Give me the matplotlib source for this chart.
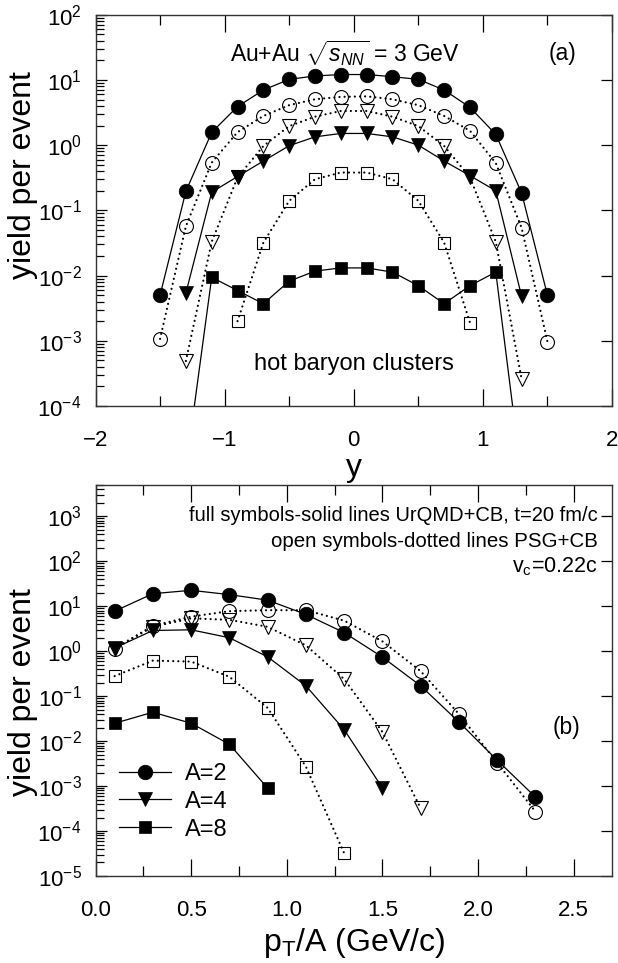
import matplotlib
matplotlib.use("Agg")
import matplotlib.pyplot as plt
from matplotlib.ticker import LogLocator, MultipleLocator, NullFormatter, FormatStrFormatter

plt.rcParams['font.family'] = ['Liberation Sans', 'DejaVu Sans']
plt.rcParams['mathtext.fontset'] = 'custom'
plt.rcParams['mathtext.rm'] = 'Liberation Sans'
plt.rcParams['mathtext.it'] = 'Liberation Sans:italic'
plt.rcParams['mathtext.default'] = 'regular'

# ---------------- panel (a): rapidity distributions ----------------
y16 = [-1.5, -1.3, -1.1, -0.9, -0.7, -0.5, -0.3, -0.1, 0.1, 0.3, 0.5, 0.7, 0.9, 1.1, 1.3, 1.5]
y14 = [-1.3, -1.1, -0.9, -0.7, -0.5, -0.3, -0.1, 0.1, 0.3, 0.5, 0.7, 0.9, 1.1, 1.3]
y10 = [-0.9, -0.7, -0.5, -0.3, -0.1, 0.1, 0.3, 0.5, 0.7, 0.9]

a2_full = [5.0e-3, 0.196, 1.57, 3.9, 7.0, 10.2, 11.5, 12.1, 12.1, 11.2, 10.2, 7.0, 3.8, 1.46, 0.185, 5.0e-3]
a2_open = [1.07e-3, 0.057, 0.54, 1.58, 2.8, 4.1, 5.05, 5.5, 5.6, 5.05, 4.1, 2.8, 1.66, 0.53, 0.054, 9.7e-4]
a4_full = [5.4e-3, 0.19, 0.33, 0.57, 0.98, 1.34, 1.51, 1.51, 1.34, 1.0, 0.57, 0.34, 0.20, 4.8e-3]
a4_open = [4.9e-4, 0.033, 0.32, 0.97, 1.96, 2.73, 3.34, 3.34, 2.73, 1.96, 0.97, 0.32, 0.033, 2.6e-4]
a8_full = [1.1e-5, 9.4e-3, 5.9e-3, 3.7e-3, 8.2e-3, 0.0117, 0.0131, 0.0131, 0.0113, 7.0e-3, 3.7e-3, 7.0e-3, 0.0113, 8e-6]
a8_open = [2.0e-3, 0.032, 0.14, 0.30, 0.38, 0.38, 0.30, 0.14, 0.032, 1.9e-3]

# ---------------- panel (b): transverse momentum spectra ----------------
pt12 = [0.1, 0.3, 0.5, 0.7, 0.9, 1.1, 1.3, 1.5, 1.7, 1.9, 2.1, 2.3]
pt9 = [0.1, 0.3, 0.5, 0.7, 0.9, 1.1, 1.3, 1.5, 1.7]
pt8 = [0.1, 0.3, 0.5, 0.7, 0.9, 1.1, 1.3, 1.5]
pt7 = [0.1, 0.3, 0.5, 0.7, 0.9, 1.1, 1.3]
pt5 = [0.1, 0.3, 0.5, 0.7, 0.9]

b2_full = [7.8, 19.1, 22.7, 18.2, 13.7, 6.6, 2.6, 0.74, 0.17, 0.0266, 3.76e-3, 5.7e-4]
b2_open = [1.15, 3.7, 5.9, 7.8, 8.2, 8.2, 4.8, 1.66, 0.36, 0.04, 3.3e-3, 2.7e-4]
b4_full = [1.18, 2.9, 3.0, 2.0, 0.75, 0.17, 0.018, 9.1e-4]
b4_open = [1.15, 3.5, 5.4, 5.0, 3.5, 1.35, 0.24, 0.016, 3.2e-4]
b8_full = [0.025, 0.044, 0.025, 8.5e-3, 9e-4]
b8_open = [0.28, 0.62, 0.59, 0.27, 0.055, 2.7e-3, 3.2e-5]

legend_labels = ['A=2', 'A=4', 'A=8']

W, H = 618, 963
fig = plt.figure(figsize=(W / 100, H / 100), dpi=100)
L = 95.5 / W
AW = (612 - 95.5) / W
axA = fig.add_axes([L, (H - 406) / H, AW, 391.3 / H])
axB = fig.add_axes([L, (H - 876) / H, AW, 391 / H])

TICK_FS = 16
LAB_FS = 23

solid = dict(color='black', lw=0.9, linestyle='-')
dotted = dict(color='black', lw=1.6, linestyle=(0, (0.01, 2.3)), dash_capstyle='round')


def open_series(ax, x, v, marker, ms):
    ax.plot(x, v, marker=marker, ms=ms, mfc='none', mec='black', mew=0.8, **dotted)


def full_series(ax, x, v, marker, ms, label=None):
    ax.plot(x, v, marker=marker, ms=ms, mfc='black', mec='black', mew=0.5, label=label, **solid)


# panel a
open_series(axA, y16, a2_open, 'o', 10)
open_series(axA, y14, a4_open, 'v', 9.5)
open_series(axA, y10, a8_open, 's', 8.5)
full_series(axA, y16, a2_full, 'o', 10.5)
full_series(axA, y14, a4_full, 'v', 10.5)
full_series(axA, y14, a8_full, 's', 8.5)

axA.set_yscale('log')
axA.set_xlim(-2, 2)
axA.set_ylim(1e-4, 1e2)
axA.xaxis.set_major_locator(MultipleLocator(1))
axA.xaxis.set_minor_locator(MultipleLocator(0.5))
axA.set_xlabel('y', fontsize=LAB_FS, labelpad=2)
axA.set_ylabel('yield per event', fontsize=LAB_FS)
axA.text(-0.07, 10 ** 1.41, r'Au+Au $\sqrt{\mathit{s_{NN}}}$ = 3 GeV', fontsize=16.5,
         ha='center', va='center')
axA.text(1.62, 10 ** 1.41, '(a)', fontsize=16.5, ha='center', va='center')
axA.text(0.0, 10 ** -3.35, 'hot baryon clusters', fontsize=17, ha='center', va='center')

# panel b
open_series(axB, pt12, b2_open, 'o', 10)
open_series(axB, pt9, b4_open, 'v', 9.5)
open_series(axB, pt7, b8_open, 's', 8.5)
full_series(axB, pt12, b2_full, 'o', 10.5, legend_labels[0])
full_series(axB, pt8, b4_full, 'v', 10.5, legend_labels[1])
full_series(axB, pt5, b8_full, 's', 8.5, legend_labels[2])

axB.set_yscale('log')
axB.set_xlim(0, 2.7)
axB.set_ylim(1e-5, 5e3)
axB.xaxis.set_major_locator(MultipleLocator(0.5))
axB.xaxis.set_minor_locator(MultipleLocator(0.25))
axB.xaxis.set_major_formatter(FormatStrFormatter('%.1f'))
axB.set_xlabel(r'p$_\mathregular{T}$/A (GeV/c)', fontsize=LAB_FS, labelpad=4)
axB.set_ylabel('yield per event', fontsize=LAB_FS)
tx = 0.972
axB.text(tx, 10 ** 3.02, 'full symbols-solid lines UrQMD+CB, t=20 fm/c', fontsize=14.5,
         ha='right', va='center', transform=axB.get_yaxis_transform())
axB.text(tx, 10 ** 2.45, 'open symbols-dotted lines PSG+CB', fontsize=14.8,
         ha='right', va='center', transform=axB.get_yaxis_transform())
axB.text(tx, 10 ** 1.88, r'v$_\mathregular{c}$=0.22c', fontsize=15.5,
         ha='right', va='center', transform=axB.get_yaxis_transform())
axB.text(2.46, 10 ** -1.7, '(b)', fontsize=16.5, ha='center', va='center')

leg = axB.legend(loc='center left', bbox_to_anchor=(0.045, 0.19), frameon=False,
                 fontsize=17, handlelength=2.2, handletextpad=0.6, labelspacing=0.25,
                 borderpad=0, borderaxespad=0)

for ax, ly in ((axA, 0.59), (axB, 0.47)):
    ax.yaxis.set_major_locator(LogLocator(base=10, numticks=20))
    ax.yaxis.set_minor_locator(LogLocator(base=10, subs=[2, 3, 4, 5, 6, 7, 8, 9], numticks=20))
    ax.yaxis.set_minor_formatter(NullFormatter())
    ax.tick_params(axis='both', which='both', direction='in', top=True, right=True,
                   labelsize=TICK_FS, width=0.9, color='black')
    ax.tick_params(axis='x', which='major', length=12, pad=17)
    ax.tick_params(axis='x', which='minor', length=7)
    ax.tick_params(axis='y', which='major', length=8, pad=10)
    ax.tick_params(axis='y', which='minor', length=6, right=False)
    for s in ax.spines.values():
        s.set_linewidth(1.0)
        s.set_color('#333333')
    ax.yaxis.set_label_coords(-0.112, ly)

fig.savefig('out.png', dpi=100)
